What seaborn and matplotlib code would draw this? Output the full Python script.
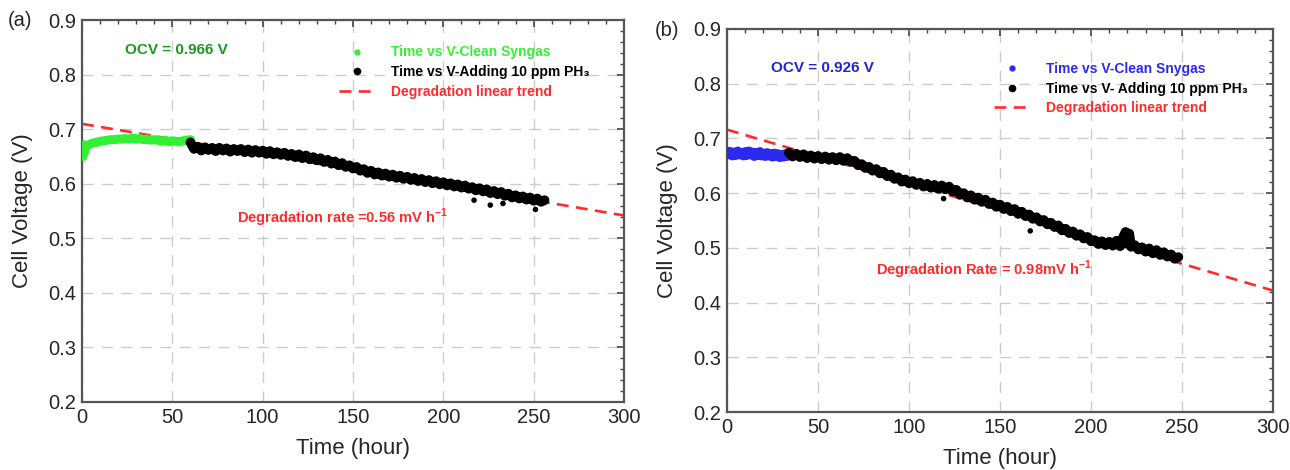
import pandas as pd
import matplotlib.pyplot as plt
import seaborn as sns
from matplotlib.ticker import MultipleLocator
from matplotlib.lines import Line2D

# ---- panel (a) data ----
a_clean_t = [0, 0.5, 1, 1.5, 2, 4, 6, 8, 10, 12, 14, 16, 18, 20, 22, 24, 26, 28, 30,
             32, 34, 36, 38, 40, 42, 44, 46, 48, 50, 52, 54, 56, 58, 60]
a_clean_v = [0.665, 0.650, 0.672, 0.658, 0.668, 0.672, 0.675, 0.676, 0.678, 0.679,
             0.680, 0.681, 0.681, 0.682, 0.682, 0.683, 0.682, 0.684, 0.682, 0.683,
             0.681, 0.682, 0.680, 0.681, 0.680, 0.678, 0.680, 0.677, 0.679, 0.678,
             0.677, 0.679, 0.680, 0.681]
a_ph3_t = [60, 62, 64, 66, 68, 70, 72, 74, 76, 78, 80, 82, 84, 86, 88, 90, 92, 94, 96, 98,
           100, 102, 104, 106, 108, 110, 112, 114, 116, 118, 120, 122, 124, 126, 128,
           130, 132, 134, 136, 138, 140, 142, 144, 146, 148, 150, 152, 154, 156, 158,
           160, 162, 164, 166, 168, 170, 172, 174, 176, 178, 180, 182, 184, 186, 188,
           190, 192, 194, 196, 198, 200, 202, 204, 206, 208, 210, 212, 214, 216, 218,
           220, 222, 224, 226, 228, 230, 232, 234, 236, 238, 240, 242, 244, 246, 248,
           250, 252, 254, 256]
a_ph3_v = [0.676, 0.664, 0.668, 0.661, 0.667, 0.662, 0.666, 0.660, 0.666, 0.661,
           0.665, 0.659, 0.664, 0.660, 0.664, 0.658, 0.663, 0.657, 0.662, 0.657,
           0.661, 0.655, 0.660, 0.654, 0.658, 0.653, 0.657, 0.651, 0.655, 0.649,
           0.654, 0.647, 0.652, 0.645, 0.649, 0.643, 0.647, 0.640, 0.644, 0.637,
           0.641, 0.634, 0.638, 0.631, 0.634, 0.628, 0.631, 0.624, 0.627, 0.620,
           0.624, 0.617, 0.621, 0.615, 0.619, 0.613, 0.617, 0.611, 0.615, 0.609,
           0.613, 0.607, 0.611, 0.605, 0.609, 0.603, 0.607, 0.601, 0.605, 0.599,
           0.603, 0.597, 0.601, 0.595, 0.599, 0.593, 0.597, 0.591, 0.594, 0.588,
           0.592, 0.586, 0.590, 0.583, 0.587, 0.581, 0.585, 0.578, 0.582, 0.575,
           0.579, 0.573, 0.577, 0.571, 0.575, 0.569, 0.573, 0.567, 0.570]
a_out_t = [217, 226, 233, 251]
a_out_v = [0.570, 0.561, 0.564, 0.553]

# ---- panel (b) data ----
b_clean_t = list(range(0, 34))
b_clean_v = [0.677, 0.670, 0.676, 0.668, 0.675, 0.669, 0.677, 0.670, 0.674, 0.668,
             0.676, 0.669, 0.677, 0.670, 0.675, 0.667, 0.674, 0.669, 0.676, 0.668,
             0.673, 0.667, 0.674, 0.668, 0.672, 0.666, 0.673, 0.667, 0.672, 0.665,
             0.671, 0.666, 0.672, 0.667]
b_ph3_t = [34, 36, 38, 40, 42, 44, 46, 48, 50, 52, 54, 56, 58, 60, 62, 64, 66, 68, 70,
           72, 74, 76, 78, 80, 82, 84, 86, 88, 90, 92, 94, 96, 98, 100, 102, 104, 106,
           108, 110, 112, 114, 116, 118, 120, 122, 124, 126, 128, 130, 132, 134, 136,
           138, 140, 142, 144, 146, 148, 150, 152, 154, 156, 158, 160, 162, 164, 166,
           168, 170, 172, 174, 176, 178, 180, 182, 184, 186, 188, 190, 192, 194, 196,
           198, 200, 202, 204, 206, 208, 210, 212, 214, 216, 218, 219, 220, 221, 222,
           224, 226, 228, 230, 232, 234, 236, 238, 240, 242, 244, 246, 248]
b_ph3_v = [0.674, 0.667, 0.672, 0.666, 0.671, 0.664, 0.669, 0.663, 0.668, 0.662,
           0.667, 0.661, 0.666, 0.660, 0.666, 0.659, 0.664, 0.657, 0.659, 0.651,
           0.653, 0.646, 0.648, 0.641, 0.644, 0.636, 0.639, 0.631, 0.634, 0.626,
           0.629, 0.621, 0.625, 0.618, 0.622, 0.615, 0.619, 0.612, 0.617, 0.610,
           0.615, 0.608, 0.614, 0.607, 0.612, 0.603, 0.606, 0.597, 0.600, 0.592,
           0.596, 0.588, 0.592, 0.584, 0.588, 0.580, 0.583, 0.575, 0.579, 0.571,
           0.575, 0.567, 0.571, 0.562, 0.566, 0.558, 0.561, 0.553, 0.556, 0.548,
           0.551, 0.543, 0.546, 0.538, 0.541, 0.532, 0.535, 0.527, 0.530, 0.522,
           0.525, 0.517, 0.520, 0.512, 0.514, 0.507, 0.512, 0.505, 0.511, 0.504,
           0.513, 0.503, 0.522, 0.529, 0.508, 0.526, 0.502, 0.505, 0.497, 0.501,
           0.493, 0.499, 0.490, 0.496, 0.487, 0.492, 0.484, 0.488, 0.480, 0.483]
b_out_t = [119, 166.6]
b_out_v = [0.590, 0.531]

# linear trend end points (t = 0 and t = 300 h)
trend_t = [0, 300]
trend_a = [0.710, 0.542]
trend_b = [0.716, 0.422]

sns.set_style("white")
plt.rcParams['font.family'] = ['Liberation Sans', 'DejaVu Sans']
BOLDF = ['Liberation Sans', 'DejaVu Sans']

fig = plt.figure(figsize=(12.9, 4.7), dpi=100)
ax_a = fig.add_axes([0.0636, 0.1447, 0.4201, 0.8123])
ax_b = fig.add_axes([0.5636, 0.1234, 0.4232, 0.8149])

GREEN = '#33f033'
BLUE = '#2a2af0'
RED = '#ff2a2a'


def panel(ax, ct, cv, pt, pv, ot, ov, tv, ccol, clean_lab, ph3_lab,
          ocv, ocv_col, ocv_xy, rate, rate_xy, leg_xy):
    ax.plot(trend_t, tv, color=RED, lw=1.9, dashes=(4.5, 2.8), zorder=2)
    # dense data band: thick line through the readings plus the points themselves
    sns.lineplot(x=ct, y=cv, ax=ax, color=ccol, lw=6.5, sort=False, zorder=3)
    sns.scatterplot(x=ct, y=cv, ax=ax, color=ccol, s=12, marker='s', edgecolor='none', zorder=3)
    sns.lineplot(x=pt, y=pv, ax=ax, color='black', lw=7, sort=False, zorder=3)
    sns.scatterplot(x=pt, y=pv, ax=ax, color='black', s=12, marker='s', edgecolor='none', zorder=3)
    sns.scatterplot(x=ot, y=ov, ax=ax, color='black', s=16, marker='o', edgecolor='none', zorder=3)
    ax.set_xlim(0, 300)
    ax.set_ylim(0.2, 0.9)
    ax.xaxis.set_major_locator(MultipleLocator(50))
    ax.xaxis.set_minor_locator(MultipleLocator(10))
    ax.yaxis.set_major_locator(MultipleLocator(0.1))
    ax.yaxis.set_minor_locator(MultipleLocator(0.02))
    ax.yaxis.set_major_formatter(plt.FormatStrFormatter('%.1f'))
    ax.grid(True, which='major', color='#cccccc', lw=1.0, dashes=(8, 6))
    ax.tick_params(which='both', direction='in', top=True, right=True, color='#444444')
    ax.tick_params(which='major', length=5, width=1.2, labelsize=14.5, pad=4)
    ax.tick_params(which='minor', length=3, width=1.0)
    for sp in ax.spines.values():
        sp.set_color('#555555')
        sp.set_linewidth(1.6)
    ax.set_xlabel("Time (hour)", fontsize=16, labelpad=8)
    ax.set_ylabel("Cell Voltage (V)", fontsize=16, labelpad=11)
    ax.text(ocv_xy[0], ocv_xy[1], ocv, color=ocv_col, fontsize=11, fontweight='bold',
            family=BOLDF, va='center')
    ax.text(rate_xy[0], rate_xy[1], rate, color=RED, fontsize=10.5, fontweight='bold',
            family=BOLDF, va='center')
    handles = [Line2D([], [], ls='none', marker='o', ms=3.5, color=ccol),
               Line2D([], [], ls='none', marker='o', ms=4.5, color='black'),
               Line2D([], [], color=RED, lw=1.9, dashes=(4.5, 2.8))]
    ax.legend(handles, [clean_lab, ph3_lab, "Degradation linear trend"],
              loc='upper left', bbox_to_anchor=leg_xy, frameon=False,
              labelcolor=[ccol, 'black', RED], handlelength=2.6,
              handletextpad=1.1, borderpad=0, labelspacing=0.4,
              prop={'family': BOLDF, 'weight': 'bold', 'size': 10})


panel(ax_a, a_clean_t, a_clean_v, a_ph3_t, a_ph3_v, a_out_t, a_out_v, trend_a, GREEN,
      "Time vs V-Clean Syngas", "Time vs V-Adding 10 ppm PH\u2083",
      "OCV = 0.966 V", '#1a9a1a', (24, 0.845),
      "Degradation rate =0.56 mV h$^{\\mathregular{-1}}$", (86, 0.537), (0.462, 0.952))
panel(ax_b, b_clean_t, b_clean_v, b_ph3_t, b_ph3_v, b_out_t, b_out_v, trend_b, BLUE,
      "Time vs V-Clean Snygas", "Time vs V- Adding 10 ppm PH\u2083",
      "OCV = 0.926 V", '#2222dd', (24, 0.829),
      "Degradation Rate = 0.98mV h$^{\\mathregular{-1}}$", (82, 0.459), (0.477, 0.932))

fig.text(8 / 1290, 1 - 20 / 470, "(a)", fontsize=14.5, va='center')
fig.text(655 / 1290, 1 - 31 / 470, "(b)", fontsize=14.5, va='center')

fig.savefig("out.png", dpi=100)
